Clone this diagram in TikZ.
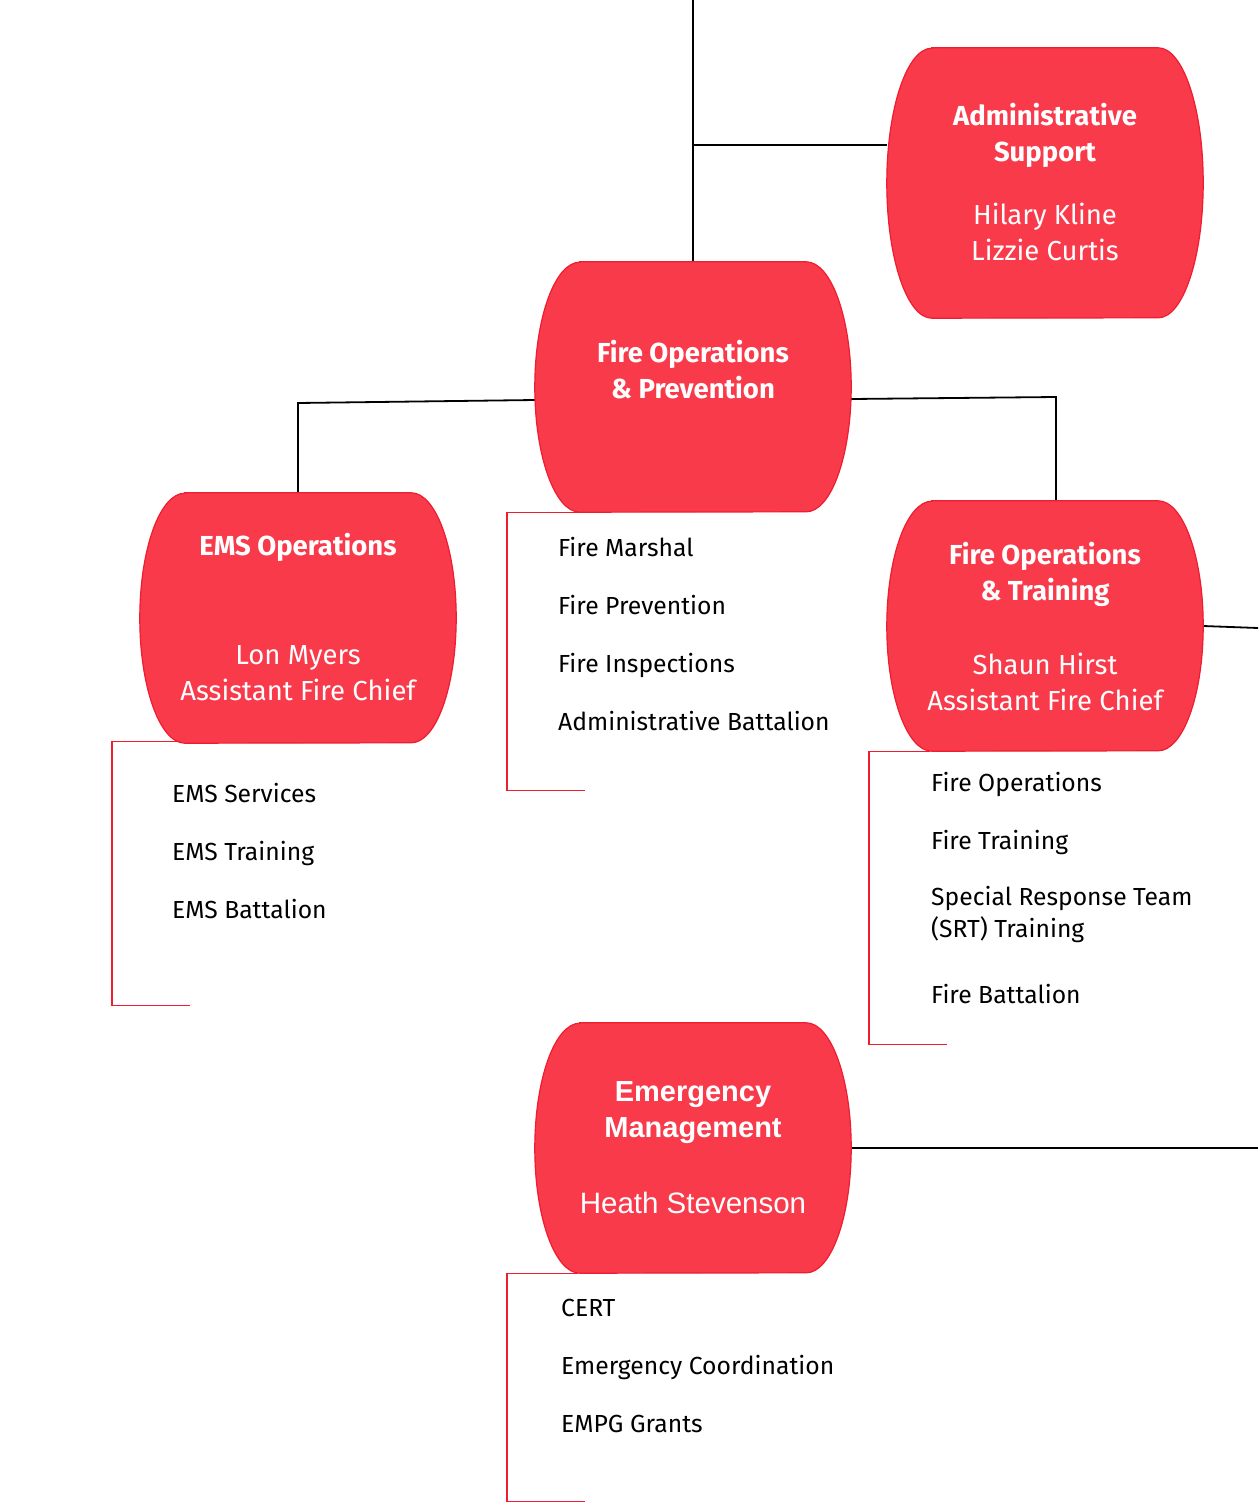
\documentclass[tikz,border=0pt]{standalone}
\usepackage{fontspec}
\setmainfont{Fira Sans}
\newfontfamily\arialfont{Liberation Sans}
\definecolor{unitred}{HTML}{F83A4B}
\definecolor{unitedge}{HTML}{EE1D2F}
\tikzset{
  unit/.style={minimum width=316pt, minimum height=250pt, inner sep=0pt},
  unitshape/.style={fill=unitred, draw=unitedge, line width=1.2pt},
  orgline/.style={line width=1.8pt, black},
  listbracket/.style={line width=1.4pt, unitedge},
  unithead/.style={text=white, font=\fontsize{27.5}{36}\selectfont\bfseries, align=center},
  unitname/.style={text=white, font=\fontsize{27.5}{36}\selectfont, align=center},
  listitem/.style={anchor=west, inner sep=0pt, yshift=-4pt, text height=17pt, text depth=6pt,
    font=\fontsize{24.7}{32}\selectfont, align=left}
}
% barrel outline: flat top and bottom, half ellipses at the sides
\newcommand{\barrel}[2]{%
  \filldraw[unitshape] ([xshift=45pt]#1.north west) -- ([xshift=-45pt]#1.north east)
    arc[start angle=90, end angle=-90, x radius=45pt, y radius=#2]
    -- ([xshift=45pt]#1.south west)
    arc[start angle=270, end angle=90, x radius=45pt, y radius=#2] -- cycle;}
\begin{document}
\begin{tikzpicture}[x=1pt, y=1pt]
  \useasboundingbox (0,0) rectangle (1258,-1504);

  % Einheiten
  \node[unit] (fop) at (693,-387) {};
  \node[unit, minimum height=270pt] (admin) at (1045,-183) {};
  \node[unit] (ems) at (298,-618) {};
  \node[unit] (fot) at (1045,-626) {};
  \node[unit] (em) at (693,-1148) {};

  % Verbindungen
  \coordinate (top) at (693,0);
  \coordinate (trunk) at (693,-145);
  \coordinate (offFot) at (1258,-628);
  \coordinate (offEm) at (1258,-1148);
  \draw[orgline] (top) -- (fop.north);
  \draw[orgline] (trunk) -- (trunk -| admin.west);
  \draw[orgline] ([yshift=-13pt]fop.west) -- ([yshift=-16pt]fop.west -| ems.north) -- (ems.north);
  \draw[orgline] ([yshift=-12pt]fop.east) -- ([xshift=11pt, yshift=-10pt]fop.east -| fot.north) -- ([xshift=11pt]fot.north);
  \draw[orgline] (fot.east) -- (offFot);
  \draw[orgline] (em.east) -- (offEm);

  \barrel{fop}{125pt}
  \barrel{admin}{135pt}
  \barrel{ems}{125pt}
  \barrel{fot}{125pt}
  \barrel{em}{125pt}

  % Beschriftung
  \node[unithead] (fopHead) at (693,-370) {Fire Operations\\\& Prevention};
  \node[unithead] (adminHead) at (1045,-135) {Administrative\\Support};
  \node[unitname] (adminName) at (1045,-232) {Hilary Kline\\Lizzie Curtis};
  \node[unithead] (emsHead) at (298,-547) {EMS Operations};
  \node[unitname] (emsName) at (298,-673) {Lon Myers\\Assistant Fire Chief};
  \node[unithead] (fotHead) at (1045,-574) {Fire Operations\\\& Training};
  \node[unitname] (fotName) at (1045,-682) {Shaun Hirst\\Assistant Fire Chief};
  \node[unithead, font=\arialfont\fontsize{29}{36}\selectfont\bfseries] (emHead) at (693,-1113) {Emergency\\Management};
  \node[unitname, font=\arialfont\fontsize{29.5}{36}\selectfont] (emName) at (693,-1203) {Heath Stevenson};

  % Listen
  \draw[listbracket] ([xshift=45pt]fop.south west) -- ++(-73,0) -- ++(0,-278) -- ++(78,0);
  \node[listitem] (fopA) at (558,-547) {Fire Marshal};
  \node[listitem] (fopB) at (558,-605) {Fire Prevention};
  \node[listitem] (fopC) at (558,-663) {Fire Inspections};
  \node[listitem] (fopD) at (558,-721) {Administrative Battalion};

  \draw[listbracket] ([xshift=40pt, yshift=2pt]ems.south west) -- ++(-68,0) -- ++(0,-264) -- ++(78,0);
  \node[listitem] (emsA) at (172,-793) {EMS Services};
  \node[listitem] (emsB) at (172,-851) {EMS Training};
  \node[listitem] (emsC) at (172,-909) {EMS Battalion};

  \draw[listbracket] ([xshift=43pt]fot.south west) -- ++(-61,0) -- ++(0,-293) -- ++(78,0);
  \node[listitem] (fotA) at (931,-782) {Fire Operations};
  \node[listitem] (fotB) at (931,-840) {Fire Training};
  \node[listitem, text height=, text depth=] (fotC) at (931,-910) {Special Response Team\\(SRT) Training};
  \node[listitem] (fotD) at (931,-994) {Fire Battalion};

  \draw[listbracket] ([xshift=43pt]em.south west) -- ++(-71,0) -- ++(0,-228) -- ++(78,0);
  \node[listitem] (emA) at (561,-1307) {CERT};
  \node[listitem] (emB) at (561,-1365) {Emergency Coordination};
  \node[listitem] (emC) at (561,-1423) {EMPG Grants};
\end{tikzpicture}
\end{document}
